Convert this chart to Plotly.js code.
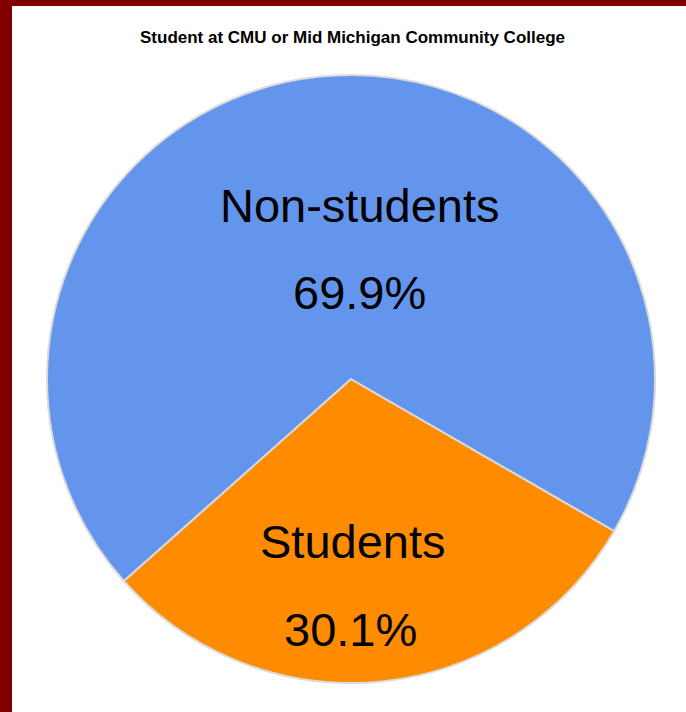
<!DOCTYPE html>
<html>
<head>
<meta charset="utf-8">
<script src="https://cdn.plot.ly/plotly-3.0.1.min.js"></script>
<style>
  html, body { margin: 0; padding: 0; background: #800000; width: 686px; height: 712px; overflow: hidden; }
  #chart { position: absolute; left: 12px; top: 6px; width: 674px; height: 706px; background: #ffffff; }
</style>
</head>
<body>
<div id="chart"></div>
<script>
const categories = ["Students", "Non-students"];
const values = [30.1, 69.9];
const sliceColors = ["#FF8C00", "#6495ED"];
const chartTitle = "Student at CMU or Mid Michigan Community College";

const total = values.reduce((a, b) => a + b, 0);
const pct = values.map(v => (v / total * 100).toFixed(1) + "%");

const trace = {
  type: "pie",
  labels: categories,
  values: values,
  sort: false,
  direction: "clockwise",
  rotation: 120,
  textinfo: "none",
  hoverinfo: "label+percent",
  marker: { colors: sliceColors, line: { color: "#dadada", width: 2 } },
  domain: { x: [35 / 674, 643 / 674], y: [1 - 677 / 706, 1 - 69 / 706] },
  showlegend: false
};

const txtFont = { family: "Liberation Sans, Arial, sans-serif", size: 47, color: "#000000" };
// label and percent annotation placement (paper coords) for each category
const labelPos = { "Students": [0.5052, 0.2422], "Non-students": [0.517, 0.7174] };
const pctPos = { "Students": [0.5015, 0.1168], "Non-students": [0.5156, 0.5942] };

const annotations = [];
categories.forEach((c, i) => {
  annotations.push({ text: c, x: labelPos[c][0], y: labelPos[c][1], xref: "paper", yref: "paper",
    xanchor: "center", yanchor: "middle", showarrow: false, font: txtFont });
  annotations.push({ text: pct[i], x: pctPos[c][0], y: pctPos[c][1], xref: "paper", yref: "paper",
    xanchor: "center", yanchor: "middle", showarrow: false, font: txtFont });
});

const layout = {
  width: 674,
  height: 706,
  margin: { l: 0, r: 0, t: 0, b: 0 },
  paper_bgcolor: "#ffffff",
  plot_bgcolor: "#ffffff",
  title: {
    text: "<b>" + chartTitle + "</b>",
    x: 0.5052, xanchor: "center", xref: "paper",
    y: 0.9554, yanchor: "middle", yref: "paper",
    font: { family: "Liberation Sans, Arial, sans-serif", size: 17, color: "#000000" }
  },
  annotations: annotations
};

Plotly.newPlot("chart", [trace], layout, { displayModeBar: false, staticPlot: true });
</script>
</body>
</html>
